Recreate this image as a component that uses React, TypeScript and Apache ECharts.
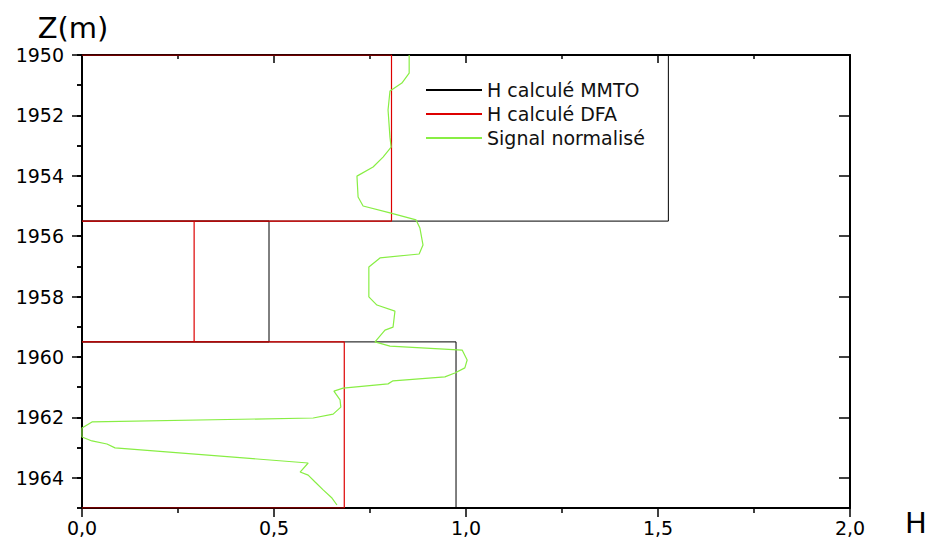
import React, { useEffect, useRef } from "react";
import * as echarts from "echarts";

// Depth boundaries of the analysed intervals (m)
const depthBounds = [1950, 1955.5, 1959.5, 1965];
// Hurst exponents per interval
const hMMTO = [1.527, 0.487, 0.974];
const hDFA = [0.806, 0.292, 0.683];

// Normalised signal (H scale) vs depth
const signalZ = [1950.0, 1950.6, 1950.93, 1951.19, 1951.82, 1952.72, 1953.05, 1953.38, 1953.71, 1954.01, 1954.7, 1955.0, 1955.23, 1955.46, 1955.73, 1956.29, 1956.59, 1956.72, 1957.02, 1958.01, 1958.28, 1958.48, 1959.01, 1959.11, 1959.5, 1959.64, 1959.77, 1960.1, 1960.36, 1960.53, 1960.66, 1960.79, 1960.89, 1961.03, 1961.13, 1961.42, 1961.66, 1961.89, 1962.02, 1962.15, 1962.35, 1962.65, 1962.78, 1962.88, 1963.01, 1963.51, 1963.81, 1963.91, 1964.14, 1964.4, 1964.67, 1964.9];
const signalH = [0.852, 0.852, 0.833, 0.802, 0.797, 0.802, 0.805, 0.784, 0.758, 0.716, 0.719, 0.732, 0.802, 0.87, 0.88, 0.888, 0.878, 0.776, 0.747, 0.747, 0.768, 0.815, 0.81, 0.789, 0.763, 0.802, 0.99, 1.003, 0.997, 0.971, 0.945, 0.81, 0.797, 0.68, 0.656, 0.672, 0.674, 0.654, 0.602, 0.026, 0.0, 0.0, 0.026, 0.065, 0.086, 0.589, 0.568, 0.589, 0.607, 0.628, 0.651, 0.664];

const majorDepthTicks = [1950, 1952, 1954, 1956, 1958, 1960, 1962, 1964];

const seriesNames = ["H calculé MMTO", "H calculé DFA", "Signal normalisé"];
const FONT = "DejaVu Sans";

function boxes(vals: number[]) {
  const out: any[] = [];
  vals.forEach((v, i) => {
    const top = depthBounds[i];
    const bot = depthBounds[i + 1];
    out.push([0, top], [v, top], [v, bot], [0, bot], ["-", "-"]);
  });
  return out;
}

export default function App() {
  const ref = useRef<HTMLDivElement>(null);
  useEffect(() => {
    if (!ref.current) return;
    const chart = echarts.init(ref.current, undefined, { renderer: "svg" });
    const axisLine = { show: true, onZero: false, lineStyle: { color: "#000", width: 2 } };
    const tickStyle = { color: "#000", width: 1.5 };
    const base = { min: 0, max: 2, interval: 0.5, type: "value" as const, splitLine: { show: false } };
    const yBase = { type: "value" as const, min: 1950, max: 1965, inverse: true, splitLine: { show: false } };
    chart.setOption({
      animation: false,
      backgroundColor: "#fff",
      grid: { left: 82, right: 80, top: 55, bottom: 35, containLabel: false },
      legend: {
        orient: "vertical",
        left: 420,
        top: 75,
        itemWidth: 56,
        itemHeight: 14,
        itemGap: 4,
        data: seriesNames,
        itemStyle: { opacity: 0 },
        textStyle: { fontFamily: FONT, fontSize: 19, color: "#111", lineHeight: 20 },
      },
      xAxis: [
        {
          ...base,
          position: "bottom",
          name: "H",
          nameLocation: "end",
          nameGap: 55,
          nameTextStyle: { fontFamily: FONT, fontSize: 29, color: "#000", verticalAlign: "top", lineHeight: 30 },
          axisLine,
          axisTick: { show: true, length: 9, lineStyle: tickStyle },
          minorTick: { show: true, splitNumber: 2, length: 5, lineStyle: tickStyle },
          axisLabel: {
            fontFamily: FONT,
            fontSize: 19,
            lineHeight: 19,
            color: "#000",
            margin: 10,
            formatter: (v: number) => v.toFixed(1).replace(".", ","),
          },
        },
        {
          ...base,
          position: "top",
          axisLine,
          axisTick: { show: true, inside: true, length: 8, lineStyle: tickStyle },
          minorTick: { show: true, splitNumber: 2, length: 4, lineStyle: tickStyle },
          axisLabel: { show: false },
        },
      ],
      yAxis: [
        {
          ...yBase,
          interval: 2,
          position: "left",
          name: "Z(m)",
          nameLocation: "start",
          nameGap: 13,
          nameTextStyle: { fontFamily: FONT, fontSize: 29, color: "#000", padding: [0, 18, 0, 0] },
          axisLine,
          axisTick: { show: true, length: 10, lineStyle: tickStyle, customValues: majorDepthTicks },
          axisLabel: {
            fontFamily: FONT,
            fontSize: 19,
            color: "#000",
            margin: 18,
            customValues: majorDepthTicks,
            formatter: (v: number) => String(v),
          },
        },
        {
          ...yBase,
          interval: 1,
          position: "left",
          axisLine: { show: false },
          axisTick: { show: true, length: 5, lineStyle: tickStyle },
          axisLabel: { show: false },
        },
        {
          ...yBase,
          interval: 2,
          position: "right",
          axisLine,
          axisTick: { show: true, inside: true, length: 11, lineStyle: tickStyle, customValues: majorDepthTicks },
          axisLabel: { show: false },
        },
        {
          ...yBase,
          interval: 1,
          position: "right",
          axisLine: { show: false },
          axisTick: { show: true, inside: true, length: 5, lineStyle: tickStyle },
          axisLabel: { show: false },
        },
      ],
      series: [
        {
          name: seriesNames[0],
          type: "line",
          data: boxes(hMMTO),
          symbol: "none",
          connectNulls: false,
          lineStyle: { color: "#000", width: 1 },
          itemStyle: { color: "#000" },
          z: 2,
        },
        {
          name: seriesNames[1],
          type: "line",
          data: boxes(hDFA),
          symbol: "none",
          connectNulls: false,
          lineStyle: { color: "#dd0000", width: 1.2 },
          itemStyle: { color: "#dd0000" },
          z: 3,
        },
        {
          name: seriesNames[2],
          type: "line",
          data: signalH.map((h, i) => [h, signalZ[i]]),
          symbol: "none",
          lineStyle: { color: "#88ee44", width: 1.2 },
          itemStyle: { color: "#88ee44" },
          z: 4,
        },
      ],
    });
    return () => chart.dispose();
  }, []);
  return (
    <div
      ref={ref}
      style={{ position: "fixed", left: 0, top: 0, width: 930, height: 543, background: "#fff" }}
    />
  );
}
